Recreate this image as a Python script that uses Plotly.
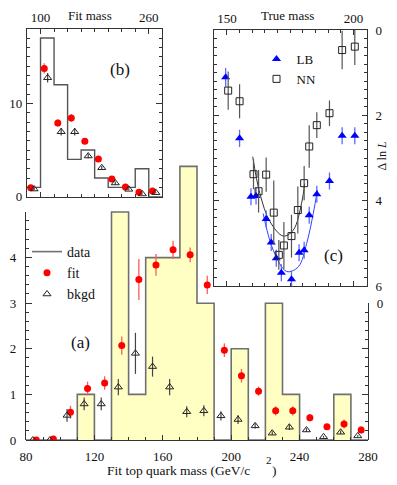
import plotly.graph_objects as go

# the page puts an 8 px body margin round the figure, so the figure is drawn 8 px smaller
# and every pixel position below (measured on the whole 397x485 picture) is shifted by it
OFF = 8
W, H = 397 - OFF, 485 - OFF
SERIF = "Liberation Serif, Times New Roman, serif"
AXC = "#333333"


def px(x):
    return (x - OFF) / W


def py(y):
    return 1 - (y - OFF) / H


# ---- (a) fit top mass, 10 GeV bins ----
mass_a = [85, 95, 105, 115, 125, 135, 145, 155, 165, 175,
          185, 195, 205, 215, 225, 235, 245, 255, 265, 275]
edges_a = [80, 90, 100, 110, 120, 130, 140, 150, 160, 170, 180,
           190, 200, 210, 220, 230, 240, 250, 260, 270, 280]
data_a = [0, 0, 0, 1, 0, 5, 1, 4, 4, 6, 3, 0, 2, 0, 3, 1, 0, 0, 1, 0]
fit_a = [0.0, 0.02, 0.61, 1.13, 1.25, 2.07, 3.52, 3.84, 4.17, 4.06,
         3.40, 1.97, 1.41, 1.07, 0.64, 0.64, 0.49, 0.29, 0.35, 0.22]
fit_a_err = [0.0, 0.0, 0.14, 0.15, 0.15, 0.2, 0.45, 0.24, 0.2, 0.16,
             0.2, 0.15, 0.15, 0.1, 0.1, 0.1, 0.08, 0.05, 0.1, 0.08]
bkgd_a = [0.0, 0.0, 0.54, 0.79, 0.79, 1.16, 1.90, 1.61, 1.16, 0.62,
          0.64, 0.53, 0.45, 0.31, 0.15, 0.28, 0.22, 0.07, 0.17, 0.09]
bkgd_a_err = [0.0, 0.0, 0.14, 0.14, 0.14, 0.18, 0.45, 0.22, 0.18, 0.12,
              0.12, 0.1, 0.1, 0.06, 0.04, 0.06, 0.04, 0.02, 0.04, 0.02]

# ---- (b) fit mass, 20 GeV bins ----
mass_b = [90, 110, 130, 150, 170, 190, 210, 230, 250, 270]
edges_b = [80, 100, 120, 140, 160, 180, 200, 220, 240, 260, 280]
data_b = [1, 17, 12, 4, 5, 2, 1, 1, 3, 0]
fit_b = [0.96, 13.75, 7.9, 8.43, 5.93, 4.04, 1.9, 1.04, 0.47, 0.61]
fit_b_err = [0.15, 0.55, 0.4, 0.4, 0.25, 0.2, 0.15, 0.1, 0.05, 0.05]
bkgd_b = [0.82, 12.75, 6.96, 6.96, 4.36, 3.1, 1.47, 0.79, 0.29, 0.43]
bkgd_b_err = [0.1, 0.5, 0.4, 0.4, 0.25, 0.2, 0.15, 0.1, 0.05, 0.05]

# ---- (c) delta ln L vs true mass ----
lb_m = [149.5, 155, 159.5, 161.5, 165.5, 167.5, 169.5, 171.5,
        175.5, 178.5, 180.5, 182.5, 185.5, 190.5, 195.5, 200.5]
lb_d = [1.11, 2.54, 3.91, 3.89, 4.43, 4.98, 5.35, 5.69,
        5.84, 5.22, 5.16, 4.34, 3.85, 3.54, 2.48, 2.48]
lb_err = [0.22, 0.2, 0.2, 0.2, 0.2, 0.2, 0.2, 0.2,
          0.2, 0.2, 0.2, 0.2, 0.2, 0.2, 0.2, 0.2]
nn_m = [150.5, 155, 160.5, 162.5, 165.5, 168.5, 170.5, 172.5,
        175.5, 178, 180.5, 182.5, 185.5, 190.5, 195.5, 200.5]
nn_d = [1.42, 1.67, 3.38, 3.78, 3.39, 4.28, 5.27, 5.05,
        4.83, 4.22, 3.59, 2.73, 2.23, 1.95, 0.47, 0.39]
nn_err = [0.45, 0.4, 0.35, 0.5, 0.4, 0.75, 0.35, 0.55,
          0.5, 0.55, 0.4, 0.5, 0.3, 0.3, 0.45, 0.43]
# fitted parabolas
nn_curve_m = [160.2, 163.0, 167.0, 172.3, 176.2, 179.5, 180.7]
nn_curve_d = [2.97, 3.83, 4.49, 4.83, 4.69, 4.06, 3.6]
lb_curve_m = [164.3, 168.3, 173.6, 178.2, 181.5, 184.1, 185.7]
lb_curve_d = [4.30, 5.16, 5.66, 5.55, 5.00, 4.30, 3.75]

RED = "#ff0000"
RED_ERR = "#ff5a5a"
BLUE = "#0000ff"
BLUE_ERR = "#5a6aff"
YELLOW = "#ffffc4"
HIST = "#707070"

fig = go.Figure()

# (a) histogram fill + outline
fig.add_trace(go.Bar(x=mass_a, y=data_a, width=10, marker=dict(color=YELLOW, line=dict(width=0)),
                     showlegend=False, hoverinfo="skip"))
fig.add_trace(go.Scatter(x=edges_a, y=data_a + [data_a[-1]], mode="lines", line_shape="hv",
                         line=dict(color=HIST, width=1.6), name="data"))
fig.add_trace(go.Scatter(x=[m + 1 for m in mass_a], y=fit_a, mode="markers", name="fit",
                         marker=dict(color=RED, size=7),
                         error_y=dict(array=fit_a_err, color=RED_ERR, thickness=1.3, width=0)))
fig.add_trace(go.Scatter(x=[m - 1 for m in mass_a], y=bkgd_a, mode="markers", name="bkgd",
                         marker=dict(color="#222222", size=7, symbol="triangle-up-open", line=dict(width=1)),
                         error_y=dict(array=bkgd_a_err, color="#444444", thickness=1.2, width=0)))
# dummy points so the partial frame axes of (a) get drawn
fig.add_trace(go.Scatter(x=[80], y=[0], yaxis="y5", mode="markers", marker=dict(opacity=0),
                         showlegend=False, hoverinfo="skip"))
fig.add_trace(go.Scatter(x=[80], y=[0], yaxis="y6", mode="markers", marker=dict(opacity=0),
                         showlegend=False, hoverinfo="skip"))

# (b) inset
fig.add_trace(go.Scatter(x=edges_b, y=data_b + [data_b[-1]], mode="lines", line_shape="hv",
                         xaxis="x2", yaxis="y2", line=dict(color="#555555", width=1.4),
                         showlegend=False, hoverinfo="skip"))
fig.add_trace(go.Scatter(x=[m - 4.5 for m in mass_b], y=fit_b, mode="markers", xaxis="x2", yaxis="y2",
                         marker=dict(color=RED, size=7), showlegend=False,
                         error_y=dict(array=fit_b_err, color=RED_ERR, thickness=1.3, width=0)))
fig.add_trace(go.Scatter(x=[m + 0.5 for m in mass_b], y=bkgd_b, mode="markers", xaxis="x2", yaxis="y2",
                         marker=dict(color="#222222", size=7, symbol="triangle-up-open", line=dict(width=1)),
                         showlegend=False,
                         error_y=dict(array=bkgd_b_err, color="#444444", thickness=1.2, width=0)))

# (c) inset
fig.add_trace(go.Scatter(x=nn_curve_m, y=nn_curve_d, mode="lines", line_shape="spline",
                         xaxis="x3", yaxis="y3", line=dict(color="#333333", width=1),
                         showlegend=False, hoverinfo="skip"))
fig.add_trace(go.Scatter(x=lb_curve_m, y=lb_curve_d, mode="lines", line_shape="spline",
                         xaxis="x3", yaxis="y3", line=dict(color="#3040ff", width=1),
                         showlegend=False, hoverinfo="skip"))
fig.add_trace(go.Scatter(x=lb_m, y=lb_d, mode="markers", xaxis="x3", yaxis="y3", name="LB",
                         legend="legend2", marker=dict(color=BLUE, size=8, symbol="triangle-up"),
                         error_y=dict(array=lb_err, color=BLUE_ERR, thickness=1.3, width=0)))
fig.add_trace(go.Scatter(x=nn_m, y=nn_d, mode="markers", xaxis="x3", yaxis="y3", name="NN",
                         legend="legend2",
                         marker=dict(color="#222222", size=7, symbol="square-open", line=dict(width=1)),
                         error_y=dict(array=nn_err, color="#555555", thickness=1.2, width=0)))

tickfont = dict(family=SERIF, size=13, color="#111111")
frame = dict(showline=True, linecolor=AXC, linewidth=1.2, ticks="inside", tickcolor=AXC,
             tickfont=tickfont, showgrid=False, zeroline=False, fixedrange=True, automargin=False)

fig.update_layout(
    width=W, height=H,
    margin=dict(l=0, r=0, t=0, b=0, autoexpand=False),
    paper_bgcolor="white", plot_bgcolor="rgba(0,0,0,0)",
    font=dict(family=SERIF, color="#111111"),
    bargap=0,
    # (a)
    xaxis=dict(frame, domain=[px(26), px(368)], range=[80, 280], anchor="y",
               tickmode="array", tickvals=[80, 120, 160, 200, 240, 280], ticklen=5,
               ticklabelstandoff=4,
               minor=dict(tickmode="array", tickvals=[v for v in range(90, 280, 10) if v % 40],
                          ticks="inside", ticklen=3, tickcolor=AXC)),
    yaxis=dict(domain=[py(440), 1], range=[0, (440 - OFF) / 45.6], visible=False, fixedrange=True,
               automargin=False),
    yaxis5=dict(frame, domain=[py(440), py(211.7)], range=[0, 5], anchor="x", side="left",
                tickmode="array", tickvals=[0, 1, 2, 3, 4, 5], ticktext=["0", "1", "2", "3", "4", ""],
                ticklen=6, ticklabelstandoff=6,
                minor=dict(tickmode="array", tickvals=[i / 5 for i in range(1, 25) if i % 5],
                           ticks="inside", ticklen=3, tickcolor=AXC)),
    yaxis6=dict(frame, domain=[py(440), py(303)], range=[0, 3], anchor="x", side="right",
                tickmode="array", tickvals=[0, 1, 2, 3], ticktext=["", "", "", "0"],
                ticklen=6, ticklabelstandoff=5,
                minor=dict(tickmode="array", tickvals=[i / 5 for i in range(1, 15) if i % 5],
                           ticks="inside", ticklen=3, tickcolor=AXC)),
    # (b)
    xaxis2=dict(frame, domain=[px(27), px(162.3)], range=[80, 280], anchor="y2", side="top",
                mirror="ticks", tickmode="array", tickvals=[100, 260], ticklen=5, ticklabelstandoff=1,
                minor=dict(tickmode="array", tickvals=[v for v in range(80, 281, 20) if v not in (100, 260)],
                           ticks="inside", ticklen=3, tickcolor=AXC)),
    yaxis2=dict(frame, domain=[py(196.7), py(29)], range=[0, 17.97], anchor="x2", side="left",
                mirror="ticks", tickmode="array", tickvals=[0, 10], ticklen=6, ticklabelstandoff=1,
                minor=dict(tickmode="array", tickvals=[v for v in range(1, 18) if v != 10],
                           ticks="inside", ticklen=3, tickcolor=AXC)),
    # (c)
    xaxis3=dict(frame, domain=[px(214), px(366.7)], range=[144.9, 205.2], anchor="y3", side="top",
                mirror="ticks", tickmode="array", tickvals=[150, 200], ticklen=5, ticklabelstandoff=1,
                minor=dict(tickmode="array", tickvals=[v for v in range(145, 206, 5) if v not in (150, 200)],
                           ticks="inside", ticklen=3, tickcolor=AXC)),
    yaxis3=dict(frame, domain=[py(286), py(30)], range=[6, 0], anchor="x3", side="right",
                mirror="ticks", tickmode="array", tickvals=[0, 2, 4, 6], ticklen=5, ticklabelstandoff=5,
                minor=dict(tickmode="array", tickvals=[i / 5 for i in range(1, 30) if i % 10],
                           ticks="inside", ticklen=3, tickcolor=AXC)),
    legend=dict(x=px(27), y=py(236), xanchor="left", yanchor="top", bgcolor="rgba(0,0,0,0)",
                font=dict(family=SERIF, size=14), itemwidth=30, tracegroupgap=0),
    legend2=dict(x=px(256.5), y=py(44), xanchor="left", yanchor="top", bgcolor="rgba(0,0,0,0)",
                 font=dict(family=SERIF, size=13), itemwidth=30),
    showlegend=True,
)

# white backgrounds for the two insets
for ax in ("x2 domain", "x3 domain"):
    fig.add_shape(type="rect", xref=ax, yref=ax.replace("x", "y"), x0=0, x1=1, y0=0, y1=1,
                  fillcolor="white", line_width=0, layer="below")

notes = [
    ("(a)", 80, 342, 17, 0),
    ("(b)", 119.7, 69.3, 17, 0),
    ("(c)", 333.7, 255, 17, 0),
    ("Fit mass", 90.3, 15.5, 13, 0),
    ("True mass", 287, 15.5, 13, 0),
    ("2", 269, 460, 11, 0),
    (")", 274.5, 470, 13.5, 0),
    ("Δ ln <i>L</i>", 381.5, 156, 12, -90),
]
for text, x, y, size, ang in notes:
    fig.add_annotation(text=text, x=px(x), y=py(y), xref="paper", yref="paper", showarrow=False,
                       xanchor="center", yanchor="middle", textangle=ang, borderpad=0,
                       font=dict(family=SERIF, size=size, color="#111111"))
fig.add_annotation(text="Fit top quark mass (GeV/c", x=px(252), y=py(470.5), xref="paper", yref="paper",
                   showarrow=False, xanchor="right", yanchor="middle",
                   font=dict(family=SERIF, size=13.5, color="#111111"))

fig.write_html("out.html")
